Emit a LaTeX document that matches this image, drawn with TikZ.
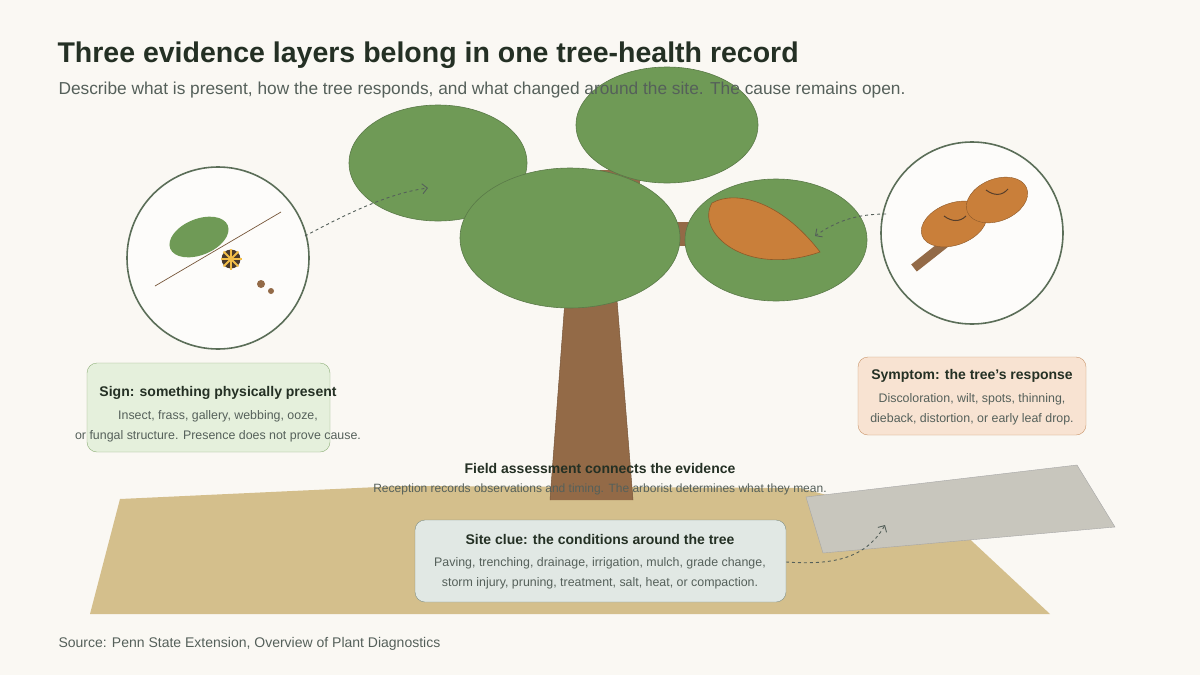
\documentclass[tikz,border=0pt]{standalone}
\usepackage{fontspec}
\setmainfont{Liberation Sans}
\usetikzlibrary{arrows.meta}
\definecolor{bg}{HTML}{FAF8F3}
\definecolor{leafg}{HTML}{6F9A56}
\definecolor{leafe}{HTML}{5A7A48}
\definecolor{trunk}{HTML}{936A47}
\definecolor{orng}{HTML}{C97F3A}
\definecolor{ground}{HTML}{D4BF8C}
\definecolor{ink}{HTML}{243024}
\definecolor{sub}{HTML}{55605A}
\definecolor{lensE}{HTML}{5B6E58}
\definecolor{pave}{HTML}{C8C6BD}
\definecolor{star}{HTML}{F2BE48}
\definecolor{stard}{HTML}{4A3A2A}
\definecolor{signF}{HTML}{E5F0DC}
\definecolor{signE}{HTML}{8FB07A}
\definecolor{symF}{HTML}{F8E3D2}
\definecolor{symE}{HTML}{C9956A}
\definecolor{siteF}{HTML}{E1E8E4}
\definecolor{siteE}{HTML}{7F8F84}
\begin{document}
\begin{tikzpicture}[x=1pt,y=-1pt,
  canopy/.style={fill=leafg,draw=leafe,line width=0.6pt},
  lens/.style={fill=white!60!bg,draw=lensE,line width=1.6pt},
  dashar/.style={draw=sub,dashed,line width=0.9pt,-{Straight Barb[length=5pt]}},
  ttl/.style={font=\bfseries\fontsize{14}{16}\selectfont,text=ink},
  body/.style={font=\fontsize{12.4}{20}\selectfont,text=sub,align=center}]
\fill[bg] (0,0) rectangle (1200,675);
\useasboundingbox (0,0) rectangle (1200,675);
% ground
\fill[ground] (120,499) -- (400,486) -- (800,488) -- (960,530) -- (1050,614) -- (90,614) -- cycle;
\draw[fill=pave,draw=gray!70] (806,497) -- (1077,465) -- (1115,527) -- (823,553) -- cycle;
% trunk
\fill[trunk] (565,300) -- (617,300) -- (633,500) -- (550,500) -- cycle;
\draw[trunk!80!black,line width=0.5pt] (565,300) -- (550,500) (617,300) -- (633,500);
\fill[trunk] (660,222) rectangle (700,246);
\fill[trunk] (600,170) rectangle (640,200);
% canopies
\draw[canopy] (438,163) ellipse [x radius=89,y radius=58];
\draw[canopy] (667,125) ellipse [x radius=91,y radius=58];
\draw[canopy] (570,238) ellipse [x radius=110,y radius=70];
\draw[canopy] (776,240) ellipse [x radius=91,y radius=61];
\draw[fill=orng,draw=orng!70!black,line width=0.6pt] (820,252) .. controls (780,200) and (735,190) .. (712,203) .. controls (695,232) and (745,278) .. (820,252) -- cycle;
% titles on top
\node[anchor=base west,font=\bfseries\fontsize{28.5}{32}\selectfont,text=ink] (title) at (54,62) {Three evidence layers belong in one tree-health record};
\node[anchor=base west,font=\fontsize{17.3}{20}\selectfont,text=sub] (subt) at (55,94) {Describe what is present, how the tree responds, and what changed around the site. The cause remains open.};
% left lens
\draw[lens] (218,258) circle (91);
\fill[leafg,rotate around={22:(199,237)}] (199,237) ellipse [x radius=31,y radius=18];
\draw[trunk!80!black,line width=0.7pt] (155,286) -- (281,212);
\fill[stard] (231,259) circle (9.5);
\foreach \a in {0,45,...,315}{\draw[star,line width=2pt] (231,259) -- ++(\a:10.5);}
\fill[trunk] (261,284) circle (4) (271,291) circle (3);
% right lens
\draw[lens] (972,233) circle (91);
\draw[trunk,line width=9pt] (914,268) -- (952,238);
\draw[fill=orng,draw=orng!70!black,rotate around={20:(954,224)}] (954,224) ellipse [x radius=34,y radius=21];
\draw[fill=orng,draw=orng!70!black,rotate around={22:(997,200)}] (997,200) ellipse [x radius=32,y radius=21];
\draw[trunk!60!black,line width=1pt] (944,216) .. controls (952,222) and (960,222) .. (966,216);
\draw[trunk!60!black,line width=1pt] (986,190) .. controls (994,196) and (1002,196) .. (1008,189);
% dashed arrows
\coordinate (a1) at (305,236); \coordinate (a1e) at (428,188);
\draw[dashar] (a1) .. controls (350,212) and (390,193) .. (a1e);
\coordinate (a2) at (886,214); \coordinate (a2e) at (815,236);
\draw[dashar] (a2) .. controls (855,214) and (835,222) .. (a2e);
\coordinate (a3) at (786,562); \coordinate (a3e) at (885,525);
\draw[dashar] (a3) .. controls (830,565) and (865,560) .. (a3e);
% boxes
\draw[fill=signF,draw=signE,rounded corners=10pt] (87,363) rectangle (330,452);
\node[ttl] (signt) at (218,393) {Sign: something physically present};
\node[body] (signb) at (218,426) {Insect, frass, gallery, webbing, ooze,\\or fungal structure. Presence does not prove cause.};
\draw[fill=symF,draw=symE,rounded corners=10pt] (858,357) rectangle (1086,435);
\node[ttl] (sympt) at (972,376) {Symptom: the tree’s response};
\node[body] (sympb) at (972,409) {Discoloration, wilt, spots, thinning,\\dieback, distortion, or early leaf drop.};
\draw[fill=siteF,draw=siteE,rounded corners=10pt] (415,520) rectangle (786,602);
\node[ttl] (sitet) at (600,539) {Site clue: the conditions around the tree};
\node[body] (siteb) at (600,573) {Paving, trenching, drainage, irrigation, mulch, grade change,\\storm injury, pruning, treatment, salt, heat, or compaction.};
\node[ttl] (fa) at (600,468) {Field assessment connects the evidence};
\node[body,font=\fontsize{12}{13}\selectfont] (fab) at (600,489) {Reception records observations and timing. The arborist determines what they mean.};
\node[anchor=base west,font=\fontsize{14}{15}\selectfont,text=sub] (src) at (55,647) {Source: Penn State Extension, Overview of Plant Diagnostics};
\end{tikzpicture}
\end{document}
